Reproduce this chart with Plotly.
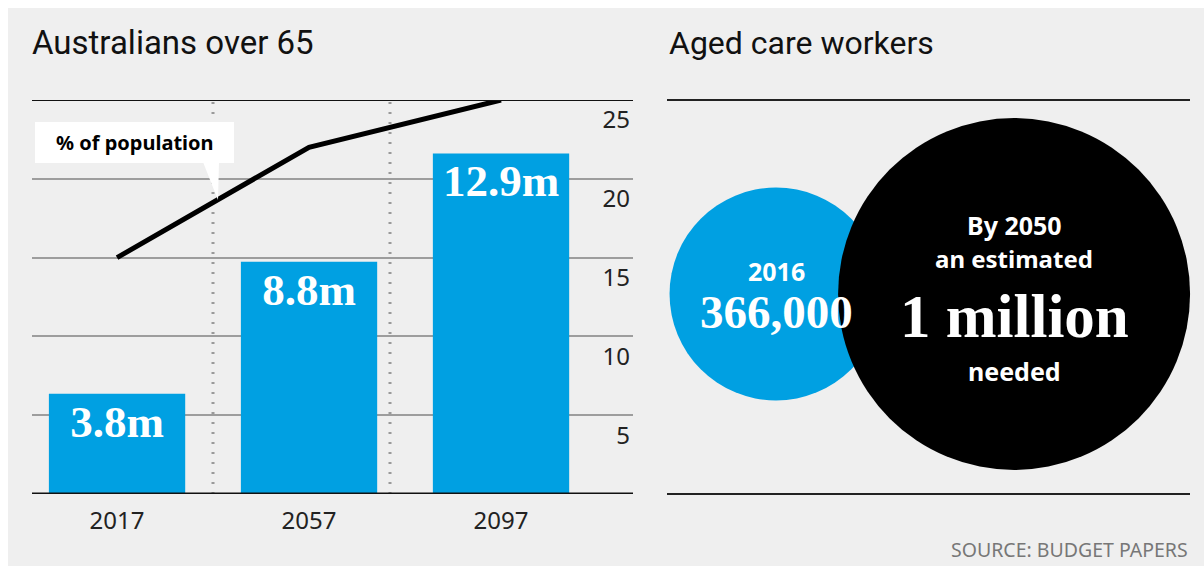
import math
import plotly.graph_objects as go

W, H = 1204, 566

# ---- data ----
years = ["2017", "2057", "2097"]
over65_millions = [3.8, 8.8, 12.9]
over65_labels = ["3.8m", "8.8m", "12.9m"]
pct_population = [15, 22, 25]
pct_ticks = [5, 10, 15, 20, 25]

worker_years = ["2016", "2050"]
workers = [366000, 1000000]
worker_labels = ["366,000", "1 million"]

BLUE = "#00a0e2"
BG = "#efefef"
SANS = "Noto Sans"
SERIF = "Liberation Serif"


def fx(px):
    return px / W


def fy(py):
    return 1 - py / H


L0, L1, T, B = 32, 633, 100, 494
R0, R1 = 667, 1190

fig = go.Figure()

fig.add_trace(go.Bar(
    x=years, y=over65_millions, yaxis="y2", xaxis="x",
    marker=dict(color=BLUE, line=dict(width=0)), width=0.71,
    text=over65_labels, textposition="inside", insidetextanchor="end",
    textfont=dict(family=SERIF, size=45, color="white", weight="bold"),
    hoverinfo="skip",
))
fig.add_trace(go.Scatter(
    x=years, y=pct_population, mode="lines", xaxis="x", yaxis="y",
    line=dict(color="black", width=5), hoverinfo="skip",
))

rmax = 176
sizes = [2 * rmax * math.sqrt(v / max(workers)) for v in workers]
fig.add_trace(go.Scatter(
    x=worker_years, y=[0.5, 0.5], xaxis="x3", yaxis="y3", mode="markers",
    marker=dict(size=sizes, sizemode="diameter", sizeref=1,
                color=[BLUE, "black"], line=dict(width=0), opacity=1),
    cliponaxis=False, hoverinfo="skip",
))

shapes = [
    # white outer margin
    dict(type="rect", xref="paper", yref="paper", x0=0, x1=1, y0=fy(8), y1=1,
         fillcolor="white", line=dict(width=0), layer="above"),
    dict(type="rect", xref="paper", yref="paper", x0=0, x1=fx(8), y0=0, y1=1,
         fillcolor="white", line=dict(width=0), layer="above"),
    # dotted separators
    dict(type="line", xref="paper", yref="paper", x0=fx(213), x1=fx(213),
         y0=fy(B), y1=fy(T), line=dict(color="#9a9a9a", width=3, dash="2px,8px"), layer="below"),
    dict(type="line", xref="paper", yref="paper", x0=fx(390), x1=fx(390),
         y0=fy(B), y1=fy(T), line=dict(color="#9a9a9a", width=3, dash="2px,8px"), layer="below"),
    # left top / base lines
    dict(type="line", xref="paper", yref="y", x0=fx(L0), x1=fx(L1), y0=25, y1=25,
         line=dict(color="#111", width=2), layer="above"),
    dict(type="line", xref="paper", yref="y", x0=fx(L0), x1=fx(L1), y0=0, y1=0,
         line=dict(color="#111", width=3), layer="above"),
    # right panel lines
    dict(type="line", xref="paper", yref="paper", x0=fx(R0), x1=fx(R1), y0=fy(T), y1=fy(T),
         line=dict(color="#222", width=2), layer="above"),
    dict(type="line", xref="paper", yref="paper", x0=fx(R0), x1=fx(R1), y0=fy(B), y1=fy(B),
         line=dict(color="#222", width=2), layer="above"),
    # callout box
    dict(type="rect", xref="paper", yref="paper", x0=fx(35), x1=fx(234), y0=fy(163), y1=fy(122),
         fillcolor="white", line=dict(width=0), layer="above"),
    dict(type="path", xref="paper", yref="paper",
         path=f"M {fx(203)} {fy(162)} L {fx(219)} {fy(162)} L {fx(218)} {fy(200)} Z",
         fillcolor="white", line=dict(width=0), layer="above"),
]

ann = []
ann.append(dict(text="Australians over 65", xref="paper", yref="paper", x=fx(30), y=fy(43),
                xanchor="left", yanchor="middle", showarrow=False,
                font=dict(family="Roboto", size=33, color="#111")))
ann.append(dict(text="Aged care workers", xref="paper", yref="paper", x=fx(667), y=fy(43),
                xanchor="left", yanchor="middle", showarrow=False,
                font=dict(family="Roboto", size=32, color="#111")))
ann.append(dict(text="% of population", xref="paper", yref="paper", x=fx(134.5), y=fy(142),
                xanchor="center", yanchor="middle", showarrow=False,
                font=dict(family=SANS, size=20, color="black", weight="bold")))
ann.append(dict(text="SOURCE: BUDGET PAPERS", xref="paper", yref="paper", x=fx(1190), y=fy(549),
                xanchor="right", yanchor="middle", showarrow=False,
                font=dict(family=SANS, size=19.5, color="#777")))

circ_text = [
    (0, "2016", 271, SANS, 25),
    (0, worker_labels[0], 312, SERIF, 47),
    (1, "By 2050", 225, SANS, 25),
    (1, "an estimated", 259, SANS, 24),
    (1, worker_labels[1], 316, SERIF, 61),
    (1, "needed", 371, SANS, 25),
]
for xi, t, ypx, fam, sz in circ_text:
    ann.append(dict(text=t, xref="x3", yref="paper", x=xi, y=fy(ypx),
                    xanchor="center", yanchor="middle", showarrow=False,
                    font=dict(family=fam, size=sz, color="white", weight="bold")))

fig.update_layout(
    width=W, height=H, margin=dict(l=0, r=0, t=0, b=0),
    paper_bgcolor=BG, plot_bgcolor="rgba(0,0,0,0)",
    showlegend=False, hovermode=False,
    shapes=shapes, annotations=ann,
    xaxis=dict(domain=[fx(L0), fx(L1)], type="category", range=[-0.443, 2.6875],
               showgrid=False, zeroline=False, showline=False, ticks="",
               tickfont=dict(family=SANS, size=24, color="#222"), ticklabelstandoff=10,
               anchor="y", fixedrange=True),
    yaxis=dict(domain=[fy(B), fy(T)], range=[0, 25], side="right", anchor="x",
               tickvals=pct_ticks, ticklabelposition="inside", ticks="",
               showgrid=True, gridcolor="#9d9d9d", gridwidth=2, zeroline=False,
               showline=False, tickfont=dict(family=SANS, size=24, color="#222"),
               ticklabelshift=20, fixedrange=True),
    yaxis2=dict(overlaying="y", range=[0, 394 / 26.4], visible=False, anchor="x"),
    xaxis3=dict(domain=[fx(R0), fx(R1)], type="category", range=[-0.458, 1.739],
                visible=False, anchor="y3"),
    yaxis3=dict(domain=[fy(470), fy(118)], range=[0, 1], visible=False, anchor="x3"),
)

fig.write_html("out.html")
